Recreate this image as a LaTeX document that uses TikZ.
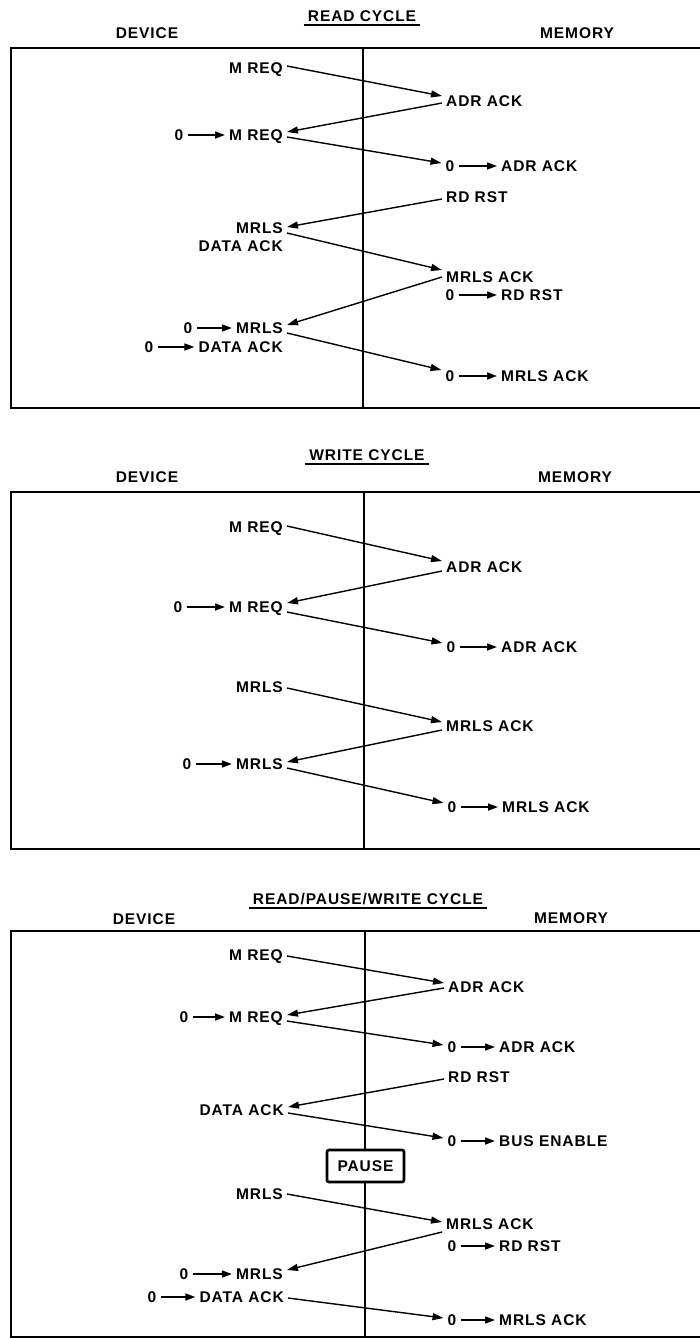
\documentclass[tikz,border=0pt]{standalone}
\usepackage{fontspec}
\setmainfont{Liberation Sans}[LetterSpace=6]
\usetikzlibrary{arrows.meta}
\newcommand\lbf{\fontsize{15.5}{18}\selectfont\bfseries}
\begin{document}
\begin{tikzpicture}[x=1pt,y=-1pt,
 lbl/.style={font=\lbf, inner xsep=4pt, inner ysep=0pt, text height=11.1pt, text depth=0pt},
 dev/.style={lbl, anchor=east},
 mem/.style={lbl, anchor=west},
 ttl/.style={lbl, inner xsep=4pt},
 frame/.style={line width=2.7pt, line join=miter},
 sig/.style={line width=1.4pt, -{Triangle[length=11pt,width=7pt]}},
 sarr/.style={line width=1.6pt, -{Triangle[length=10pt,width=7pt]}},
 uline/.style={line width=1.8pt},
 pausebox/.style={lbl, draw, line width=2.7pt, fill=white, rounded corners=2pt, minimum width=77pt, minimum height=32pt, inner ysep=0pt}]
\useasboundingbox (0,0) rectangle (700,1338);

% ================= READ CYCLE =================
\node[ttl] (t1) at (362,16) {READ CYCLE};
\draw[uline] ([yshift=-3.5pt]t1.south west) -- ([yshift=-3.5pt]t1.south east);
\node[lbl] (dev1) at (147,33) {DEVICE};
\node[lbl] (mem1) at (577,33) {MEMORY};
\draw[frame] (703,48) -- (11,48) -- (11,408) -- (703,408);
\coordinate (v1t) at (363,48); \coordinate (v1b) at (363,408);
\draw[frame] (v1t) -- (v1b);

\node[dev] (d1a) at (287,68) {M REQ};
\node[dev] (d1b) at (287,135) {M REQ};
\node[lbl] (z1b) at (179,135) {0};
\node[dev] (d1c) at (287,228) {MRLS};
\node[dev] (d1d) at (287,246) {DATA ACK};
\node[dev] (d1e) at (287,328) {MRLS};
\node[lbl] (z1e) at (188,328) {0};
\node[dev] (d1f) at (287,347) {DATA ACK};
\node[lbl] (z1f) at (149,347) {0};

\node[mem] (m1a) at (442,101) {ADR ACK};
\node[lbl] (y1b) at (450,166) {0};
\node[mem] (m1b) at (497,166) {ADR ACK};
\node[mem] (m1c) at (442,197) {RD RST};
\node[mem] (m1d) at (442,277) {MRLS ACK};
\node[lbl] (y1e) at (450,295) {0};
\node[mem] (m1e) at (497,295) {RD RST};
\node[lbl] (y1f) at (450,376) {0};
\node[mem] (m1f) at (497,376) {MRLS ACK};

\draw[sarr] (z1b) -- (d1b);
\draw[sarr] (z1e) -- (d1e);
\draw[sarr] (z1f) -- (d1f);
\draw[sarr] (y1b) -- (m1b);
\draw[sarr] (y1e) -- (m1e);
\draw[sarr] (y1f) -- (m1f);

\draw[sig] ([yshift=2pt]d1a.east) -- ([yshift=5pt]m1a.west);
\draw[sig] ([yshift=-2pt]m1a.west) -- ([yshift=3pt]d1b.east);
\draw[sig] ([yshift=-2pt]d1b.east) -- ([yshift=3pt]y1b.west);
\draw[sig] ([yshift=-2pt]m1c.west) -- ([yshift=1pt]d1c.east);
\draw[sig] ([yshift=-5pt]d1c.east) -- ([yshift=7pt]m1d.west);
\draw[sig] (m1d.west) -- ([yshift=3pt]d1e.east);
\draw[sig] ([yshift=-5pt]d1e.east) -- ([yshift=6pt]y1f.west);

% ================= WRITE CYCLE =================
\node[ttl] (t2) at (367,455) {WRITE CYCLE};
\draw[uline] ([yshift=-3.5pt]t2.south west) -- ([yshift=-3.5pt]t2.south east);
\node[lbl] (dev2) at (147,477) {DEVICE};
\node[lbl] (mem2) at (575,477) {MEMORY};
\draw[frame] (703,492) -- (11,492) -- (11,849) -- (703,849);
\coordinate (v2t) at (364,492); \coordinate (v2b) at (364,849);
\draw[frame] (v2t) -- (v2b);

\node[dev] (d2a) at (287,527) {M REQ};
\node[dev] (d2b) at (287,607) {M REQ};
\node[lbl] (z2b) at (178,607) {0};
\node[dev] (d2c) at (287,687) {MRLS};
\node[dev] (d2d) at (287,764) {MRLS};
\node[lbl] (z2d) at (187,764) {0};

\node[mem] (m2a) at (442,567) {ADR ACK};
\node[lbl] (y2b) at (451,647) {0};
\node[mem] (m2b) at (497,647) {ADR ACK};
\node[mem] (m2c) at (442,726) {MRLS ACK};
\node[lbl] (y2d) at (452,807) {0};
\node[mem] (m2d) at (498,807) {MRLS ACK};

\draw[sarr] (z2b) -- (d2b);
\draw[sarr] (z2d) -- (d2d);
\draw[sarr] (y2b) -- (m2b);
\draw[sarr] (y2d) -- (m2d);

\draw[sig] ([yshift=1pt]d2a.east) -- ([yshift=6pt]m2a.west);
\draw[sig] ([yshift=-4pt]m2a.west) -- ([yshift=4pt]d2b.east);
\draw[sig] ([yshift=-5pt]d2b.east) -- ([yshift=4pt]y2b.west);
\draw[sig] ([yshift=-1pt]d2c.east) -- ([yshift=4pt]m2c.west);
\draw[sig] ([yshift=-4pt]m2c.west) -- ([yshift=2pt]d2d.east);
\draw[sig] ([yshift=-4pt]d2d.east) -- ([yshift=4pt]y2d.west);

% ================= READ/PAUSE/WRITE CYCLE =================
\node[ttl] (t3) at (368,899) {READ/PAUSE/WRITE CYCLE};
\draw[uline] ([yshift=-3.5pt]t3.south west) -- ([yshift=-3.5pt]t3.south east);
\node[lbl] (dev3) at (144,919) {DEVICE};
\node[lbl] (mem3) at (571,918) {MEMORY};
\draw[frame] (703,931) -- (11,931) -- (11,1337) -- (703,1337);
\coordinate (v3t) at (365,931); \coordinate (v3b) at (365,1337);
\draw[frame] (v3t) -- (v3b);
\node[pausebox] (pause) at (365.5,1166) {PAUSE};

\node[dev] (d3a) at (287,955) {M REQ};
\node[dev] (d3b) at (287,1017) {M REQ};
\node[lbl] (z3b) at (184,1017) {0};
\node[dev] (d3c) at (288,1110) {DATA ACK};
\node[dev] (d3d) at (287,1194) {MRLS};
\node[dev] (d3e) at (287,1274) {MRLS};
\node[lbl] (z3e) at (184,1274) {0};
\node[dev] (d3f) at (288,1297) {DATA ACK};
\node[lbl] (z3f) at (152,1297) {0};

\node[mem] (m3a) at (444,987) {ADR ACK};
\node[lbl] (y3b) at (452,1047) {0};
\node[mem] (m3b) at (495,1047) {ADR ACK};
\node[mem] (m3c) at (444,1077) {RD RST};
\node[lbl] (y3d) at (452,1141) {0};
\node[mem] (m3d) at (495,1141) {BUS ENABLE};
\node[mem] (m3e) at (442,1224) {MRLS ACK};
\node[lbl] (y3f) at (452,1246) {0};
\node[mem] (m3f) at (495,1246) {RD RST};
\node[lbl] (y3g) at (452,1320) {0};
\node[mem] (m3g) at (495,1320) {MRLS ACK};

\draw[sarr] (z3b) -- (d3b);
\draw[sarr] (z3e) -- (d3e);
\draw[sarr] (z3f) -- (d3f);
\draw[sarr] (y3b) -- (m3b);
\draw[sarr] (y3d) -- (m3d);
\draw[sarr] (y3f) -- (m3f);
\draw[sarr] (y3g) -- (m3g);

\draw[sig] ([yshift=-1pt]d3a.east) -- ([yshift=4pt]m3a.west);
\draw[sig] ([yshift=-1pt]m3a.west) -- ([yshift=2pt]d3b.east);
\draw[sig] ([yshift=-4pt]d3b.east) -- ([yshift=2pt]y3b.west);
\draw[sig] ([yshift=-2pt]m3c.west) -- ([yshift=3pt]d3c.east);
\draw[sig] ([yshift=-3pt]d3c.east) -- ([yshift=3pt]y3d.west);
\draw[sig] (d3d.east) -- ([yshift=2pt]m3e.west);
\draw[sig] ([yshift=-8pt]m3e.west) -- ([yshift=4pt]d3e.east);
\draw[sig] ([yshift=-1pt]d3f.east) -- ([yshift=2pt]y3g.west);
\end{tikzpicture}
\end{document}
